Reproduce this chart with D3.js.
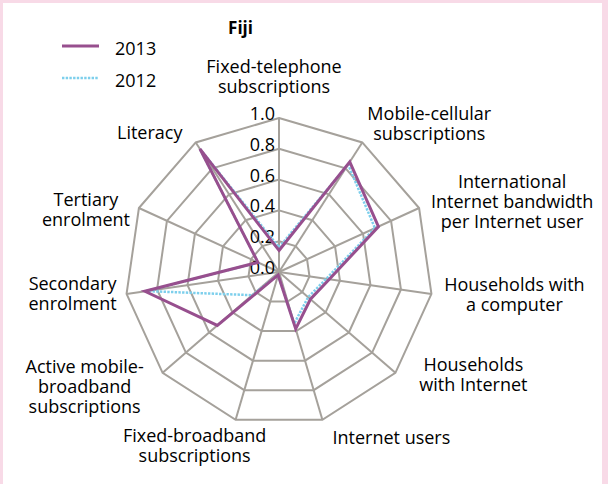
<!DOCTYPE html>
<html>
<head>
<meta charset="utf-8">
<script src="https://cdn.jsdelivr.net/npm/d3@7/dist/d3.min.js"></script>
<style>
  html, body { margin: 0; padding: 0; background: #ffffff; }
  svg { display: block; font-family: "Open Sans", "Noto Sans", sans-serif; }
</style>
</head>
<body>
<svg id="chart" width="608" height="484"></svg>
<script>
// ICT indicators for Fiji, normalised to 0–1
const categories = [
  "Fixed-telephone subscriptions",
  "Mobile-cellular subscriptions",
  "International Internet bandwidth per Internet user",
  "Households with a computer",
  "Households with Internet",
  "Internet users",
  "Fixed-broadband subscriptions",
  "Active mobile-broadband subscriptions",
  "Secondary enrolment",
  "Tertiary enrolment",
  "Literacy"
];
// how each axis label breaks into lines
const labelLines = [
  ["Fixed-telephone", "subscriptions"],
  ["Mobile-cellular", "subscriptions"],
  ["International", "Internet bandwidth", "per Internet user"],
  ["Households with", "a computer"],
  ["Households", "with Internet"],
  ["Internet users"],
  ["Fixed-broadband", "subscriptions"],
  ["Active mobile-", "broadband", "subscriptions"],
  ["Secondary", "enrolment"],
  ["Tertiary", "enrolment"],
  ["Literacy"]
];
const seriesNames = ["2013", "2012"];
const values2013 = [0.14, 0.85, 0.71, 0.33, 0.27, 0.385, 0.02, 0.53, 0.88, 0.15, 0.95];
const values2012 = [0.16, 0.83, 0.685, 0.31, 0.25, 0.35, 0.02, 0.23, 0.87, 0.15, 0.95];
const tickValues = [0, 0.2, 0.4, 0.6, 0.8, 1.0];

// layout
const W = 608, H = 484;
const cx = 279, cy = 272, R = 154;
const gridColor = "#a5a19b";
const colors = { "2013": "#974f8e", "2012": "#7dcfec" };
// label block centre, relative to the end of its axis
const labelOffset = [
  [-5, -42], [67, -19], [93, -7], [83, 1], [78, 2], [69, 18],
  [-41, 26], [-78, 14], [-54, 0], [-53, 1], [-46, -10]
];

const svg = d3.select("#chart");

// page frame
svg.append("rect").attr("x", 0).attr("y", 0).attr("width", W).attr("height", H).attr("fill", "#f8dae7");
svg.append("rect").attr("x", 3).attr("y", 3).attr("width", W - 9).attr("height", H - 3).attr("fill", "#ffffff");

const n = categories.length;
const angle = d3.scaleLinear().domain([0, n]).range([0, 2 * Math.PI]);
const r = d3.scaleLinear().domain([0, 1]).range([0, R]);

const g = svg.append("g").attr("transform", `translate(${cx},${cy})`);

const pt = (i, v) => [Math.sin(angle(i)) * r(v), -Math.cos(angle(i)) * r(v)];

// polygon rings
const ringLine = d3.lineRadial().angle((d, i) => angle(i)).radius(d => r(d)).curve(d3.curveLinearClosed);
g.append("g").selectAll("path")
  .data(tickValues.filter(t => t > 0))
  .join("path")
  .attr("d", t => ringLine(d3.range(n).map(() => t)))
  .attr("fill", "none")
  .attr("stroke", gridColor)
  .attr("stroke-width", 2);

// spokes
g.append("g").selectAll("line")
  .data(d3.range(n))
  .join("line")
  .attr("x1", 0).attr("y1", 0)
  .attr("x2", i => pt(i, 1)[0])
  .attr("y2", i => pt(i, 1)[1])
  .attr("stroke", gridColor)
  .attr("stroke-width", 2);

// radial tick labels along the top spoke
const fmt = d3.format(".1f");
g.append("g").selectAll("text")
  .data(tickValues)
  .join("text")
  .attr("x", -4)
  .attr("y", t => -r(t) + 2)
  .attr("text-anchor", "end")
  .attr("font-size", 18)
  .attr("fill", "#000")
  .text(t => fmt(t));

// series
const seriesLine = d3.lineRadial().angle((d, i) => angle(i)).radius(d => r(d)).curve(d3.curveLinearClosed);
g.append("path")
  .attr("d", seriesLine(values2012))
  .attr("fill", "none")
  .attr("stroke", colors["2012"])
  .attr("stroke-width", 2.5)
  .attr("stroke-dasharray", "2.4,1.3");
g.append("path")
  .attr("d", seriesLine(values2013))
  .attr("fill", "none")
  .attr("stroke", colors["2013"])
  .attr("stroke-width", 3)
  .attr("stroke-linejoin", "miter");

// category labels, one text element per line
const lineH = 20;
const labelGroups = g.append("g").selectAll("g")
  .data(d3.range(n))
  .join("g");
labelGroups.each(function (i) {
  const [ex, ey] = pt(i, 1);
  const bx = ex + labelOffset[i][0];
  const by = ey + labelOffset[i][1];
  const lines = labelLines[i];
  d3.select(this).selectAll("text")
    .data(lines)
    .join("text")
    .attr("text-anchor", "middle")
    .attr("font-size", 18)
    .attr("fill", "#000")
    .attr("x", bx)
    .attr("y", (d, k) => by + (k - (lines.length - 1) / 2) * lineH + 6.5)
    .text(d => d);
});

// title
svg.append("text")
  .attr("x", 240.5).attr("y", 34)
  .attr("text-anchor", "middle")
  .attr("font-size", 17)
  .attr("font-weight", "bold")
  .attr("fill", "#000")
  .text("Fiji");

// legend
const legend = svg.append("g").attr("transform", "translate(62,0)");
const legendRows = legend.selectAll("g")
  .data(seriesNames)
  .join("g")
  .attr("transform", (d, i) => `translate(0,${46 + i * 32})`);
legendRows.append("line")
  .attr("x1", 0).attr("x2", 37).attr("y1", 0).attr("y2", 0)
  .attr("stroke", d => colors[d])
  .attr("stroke-width", d => d === "2013" ? 3 : 2.5)
  .attr("stroke-dasharray", d => d === "2012" ? "2.4,1.3" : null);
legendRows.append("text")
  .attr("x", 53).attr("y", 8.5)
  .attr("font-size", 18)
  .attr("fill", "#000")
  .text(d => d);
</script>
</body>
</html>
